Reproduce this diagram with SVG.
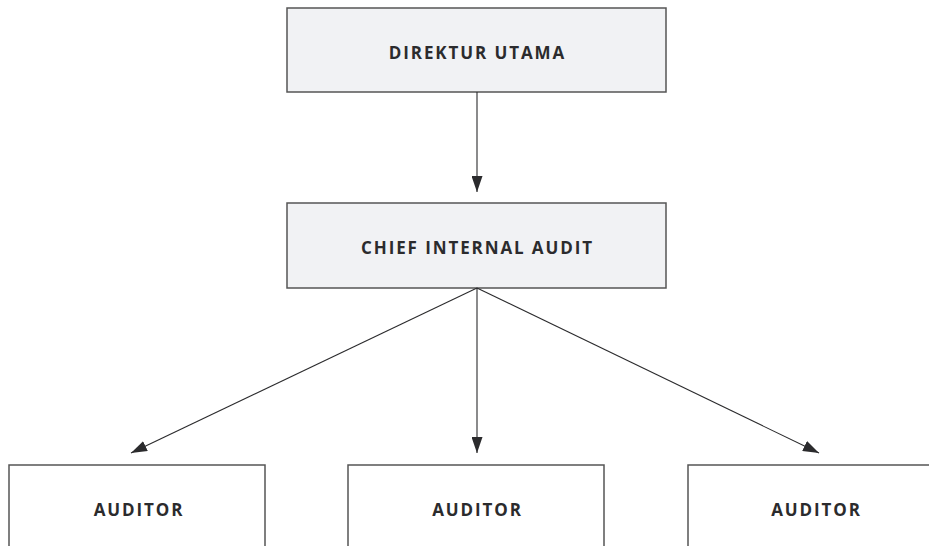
<svg xmlns="http://www.w3.org/2000/svg" width="929" height="546" viewBox="0 0 929 546">
  <style>
    .box { stroke: #555555; stroke-width: 1.5; }
    .head { fill: #f1f2f4; }
    .leaf { fill: #ffffff; }
    .label { font-family: "Open Sans", "Liberation Sans", sans-serif; font-weight: 700; font-size: 17px; letter-spacing: 1.9px; fill: #2b2b2d; text-anchor: middle; }
    .link { stroke: #2b2b2d; stroke-width: 1.1; fill: none; marker-end: url(#arrow); }
  </style>
  <defs>
    <marker id="arrow" viewBox="0 0 16 11" refX="16" refY="5.5" markerWidth="16" markerHeight="11" markerUnits="userSpaceOnUse" orient="auto">
      <path d="M0,0 L16,5.5 L0,11 Z" fill="#2b2b2d"/>
    </marker>
  </defs>

  <g id="direktur-utama">
    <rect class="box head" x="287" y="8" width="379" height="84"/>
    <text class="label" x="477.5" y="59">DIREKTUR UTAMA</text>
  </g>

  <g id="chief-internal-audit">
    <rect class="box head" x="287" y="203" width="379" height="85"/>
    <text class="label" x="477.5" y="254">CHIEF INTERNAL AUDIT</text>
  </g>

  <g id="auditor-1">
    <rect class="box leaf" x="9" y="465" width="256" height="100"/>
    <text class="label" x="139" y="515.5">AUDITOR</text>
  </g>

  <g id="auditor-2">
    <rect class="box leaf" x="348" y="465" width="256" height="100"/>
    <text class="label" x="477.5" y="515.5">AUDITOR</text>
  </g>

  <g id="auditor-3">
    <rect class="box leaf" x="688" y="465" width="256" height="100"/>
    <text class="label" x="816.5" y="515.5">AUDITOR</text>
  </g>

  <g id="connectors">
    <line class="link" x1="477" y1="92" x2="477" y2="192"/>
    <line class="link" x1="477" y1="288" x2="131" y2="453"/>
    <line class="link" x1="477" y1="288" x2="477" y2="453"/>
    <line class="link" x1="477" y1="288" x2="819" y2="453"/>
  </g>
</svg>
